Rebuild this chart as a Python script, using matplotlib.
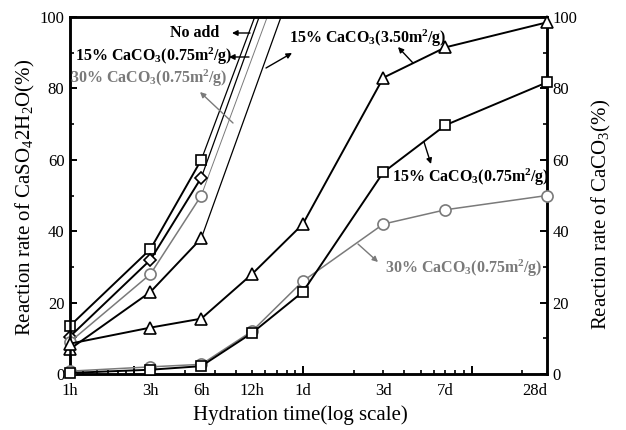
import matplotlib

matplotlib.use("Agg")
import matplotlib.pyplot as plt
import numpy as np
from matplotlib.ticker import FixedLocator, LogLocator, MultipleLocator, NullFormatter

plt.rcParams["font.family"] = ["Liberation Serif", "DejaVu Serif"]
plt.rcParams["mathtext.fontset"] = "custom"
plt.rcParams["mathtext.rm"] = "Liberation Serif"
plt.rcParams["mathtext.bf"] = "Liberation Serif:bold"
plt.rcParams["mathtext.default"] = "rm"

# hydration ages, in days
time_days = [1 / 24, 3 / 24, 6 / 24, 12 / 24, 1, 3, 7, 28]
time_labels = ["1h", "3h", "6h", "12h", "1d", "3d", "7d", "28d"]

# CaSO4.2H2O reaction rate (left axis), measured at 1h, 3h, 6h
gyp_noadd = [13.5, 35, 60]
gyp_15_075 = [10.5, 32, 55]
gyp_30_075 = [9, 28, 50]
gyp_15_350 = [7, 23, 38]
# the curves run on past the top of the frame; value read at 1d
gyp_ext = [136, 134, 127, 117]

# CaCO3 reaction rate (right axis)
cc_15_350 = [8.5, 13, 15.5, 28, 42, 83, 91.5, 98.5]
cc_15_075 = [0.3, 1.2, 2.2, 11.5, 23, 56.5, 69.7, 81.7]
cc_30_075 = [0.8, 2, 2.7, 12, 26, 42, 46, 50]

BLACK = "black"
GREY = "#7a7a7a"

fig = plt.figure(figsize=(6.26, 4.30), dpi=100)
ax = fig.add_axes([70 / 626, 56 / 430, 477 / 626, 357 / 430])
ax2 = ax.twinx()

mk = dict(markerfacecolor="white", markeredgewidth=1.2, clip_on=False, zorder=4)

# extensions past 100 %
gyp_sets = [(gyp_noadd, BLACK), (gyp_15_075, BLACK), (gyp_30_075, GREY), (gyp_15_350, BLACK)]
for (vals, col), ext in zip(gyp_sets, gyp_ext):
    ax.plot([time_days[2], time_days[4]], [vals[-1], ext], color=col,
            lw=0.9 if col == BLACK else 0.7, zorder=2)

ax.plot(time_days[:3], gyp_noadd, "-s", color=BLACK, lw=1.4, markersize=7.5,
        markeredgecolor=BLACK, **mk)
ax.plot(time_days[:3], gyp_15_075, "-D", color=BLACK, lw=1.4, markersize=6,
        markeredgecolor=BLACK, **mk)
ax.plot(time_days[:3], gyp_30_075, "-o", color=GREY, lw=1.1, markersize=8,
        markeredgecolor=GREY, **mk)
ax.plot(time_days[:3], gyp_15_350, "-^", color=BLACK, lw=1.4, markersize=8.5,
        markeredgecolor=BLACK, **mk)

ax2.plot(time_days, cc_15_350, "-^", color=BLACK, lw=1.4, markersize=8.5,
         markeredgecolor=BLACK, **mk)
ax2.plot(time_days, cc_30_075, "-o", color=GREY, lw=1.1, markersize=8,
         markeredgecolor=GREY, **mk)
ax2.plot(time_days, cc_15_075, "-s", color=BLACK, lw=1.4, markersize=7.5,
         markeredgecolor=BLACK, **mk)

ax.set_xscale("log")
ax.set_xlim(time_days[0], time_days[-1])
ax.set_ylim(0, 100)
ax2.set_ylim(0, 100)

ax.xaxis.set_major_locator(FixedLocator([0.1, 1, 10]))
ax.xaxis.set_minor_locator(LogLocator(base=10, subs=np.arange(2, 10), numticks=20))
ax.xaxis.set_major_formatter(NullFormatter())
ax.xaxis.set_minor_formatter(NullFormatter())
for t, lab in zip(time_days, time_labels):
    ax.text(t, -0.026, lab, transform=ax.get_xaxis_transform(),
            ha="right" if lab == "28d" else "center", va="top", fontsize=12)

for a in (ax, ax2):
    a.yaxis.set_major_locator(MultipleLocator(20))
    a.yaxis.set_minor_locator(MultipleLocator(10))
    a.tick_params(axis="both", which="major", direction="in", length=5,
                  width=1.4, labelsize=12, pad=4)
    a.tick_params(axis="both", which="minor", direction="in", length=3,
                  width=1.2)
    for s in a.spines.values():
        s.set_linewidth(1.8)
ax.tick_params(axis="x", which="major", length=6)
ax.tick_params(axis="y", right=False, which="both")
ax2.tick_params(axis="x", which="both", top=False)
ax.tick_params(axis="x", which="both", top=False)

fig.text(25 / 626, 1 - 197 / 430, r"Reaction rate of CaSO$_4$2H$_2$O(%)",
         rotation=90, ha="center", va="center", fontsize=15)
fig.text(601 / 626, 1 - 214 / 430, r"Reaction rate of CaCO$_3$(%)",
         rotation=90, ha="center", va="center", fontsize=15)
fig.text(300 / 626, 1 - 415 / 430, "Hydration time(log scale)",
         ha="center", va="center", fontsize=15)

lab = dict(fontsize=11.5, fontweight="bold", va="center")
fig.text(219 / 626, 1 - 33 / 430, "No add", ha="right", color=BLACK, **lab)
fig.text(75 / 626, 1 - 56 / 430, r"15% CaCO$_\mathbf{3}$(0.75m$^\mathbf{2}$/g)",
         ha="left", color=BLACK, **lab)
fig.text(70 / 626, 1 - 78 / 430, r"30% CaCO$_\mathbf{3}$(0.75m$^\mathbf{2}$/g)",
         ha="left", color=GREY, **lab)
fig.text(289 / 626, 1 - 38 / 430, r"15% CaCO$_\mathbf{3}$(3.50m$^\mathbf{2}$/g)",
         ha="left", color=BLACK, **lab)
fig.text(392 / 626, 1 - 177 / 430, r"15% CaCO$_\mathbf{3}$(0.75m$^\mathbf{2}$/g)",
         ha="left", color=BLACK, **lab)
fig.text(385 / 626, 1 - 268 / 430, r"30% CaCO$_\mathbf{3}$(0.75m$^\mathbf{2}$/g)",
         ha="left", color=GREY, **lab)

# arrows: (tail on curve, head toward label), image pixels
arrows = [
    ((250, 33), (232, 33), BLACK),
    ((249, 57), (229, 57), BLACK),
    ((233, 123), (200, 92), GREY),
    ((266, 68), (292, 53), BLACK),
    ((413, 63), (398, 47), BLACK),
    ((424, 142), (431, 164), BLACK),
    ((358, 244), (378, 262), GREY),
]
for tail, head, col in arrows:
    ax.annotate("", xy=(head[0], 430 - head[1]), xycoords="figure pixels",
                xytext=(tail[0], 430 - tail[1]), textcoords="figure pixels",
                arrowprops=dict(arrowstyle="-|>", color=col, lw=1.0,
                                mutation_scale=8, shrinkA=0, shrinkB=0))

fig.savefig("out.png", dpi=100)
